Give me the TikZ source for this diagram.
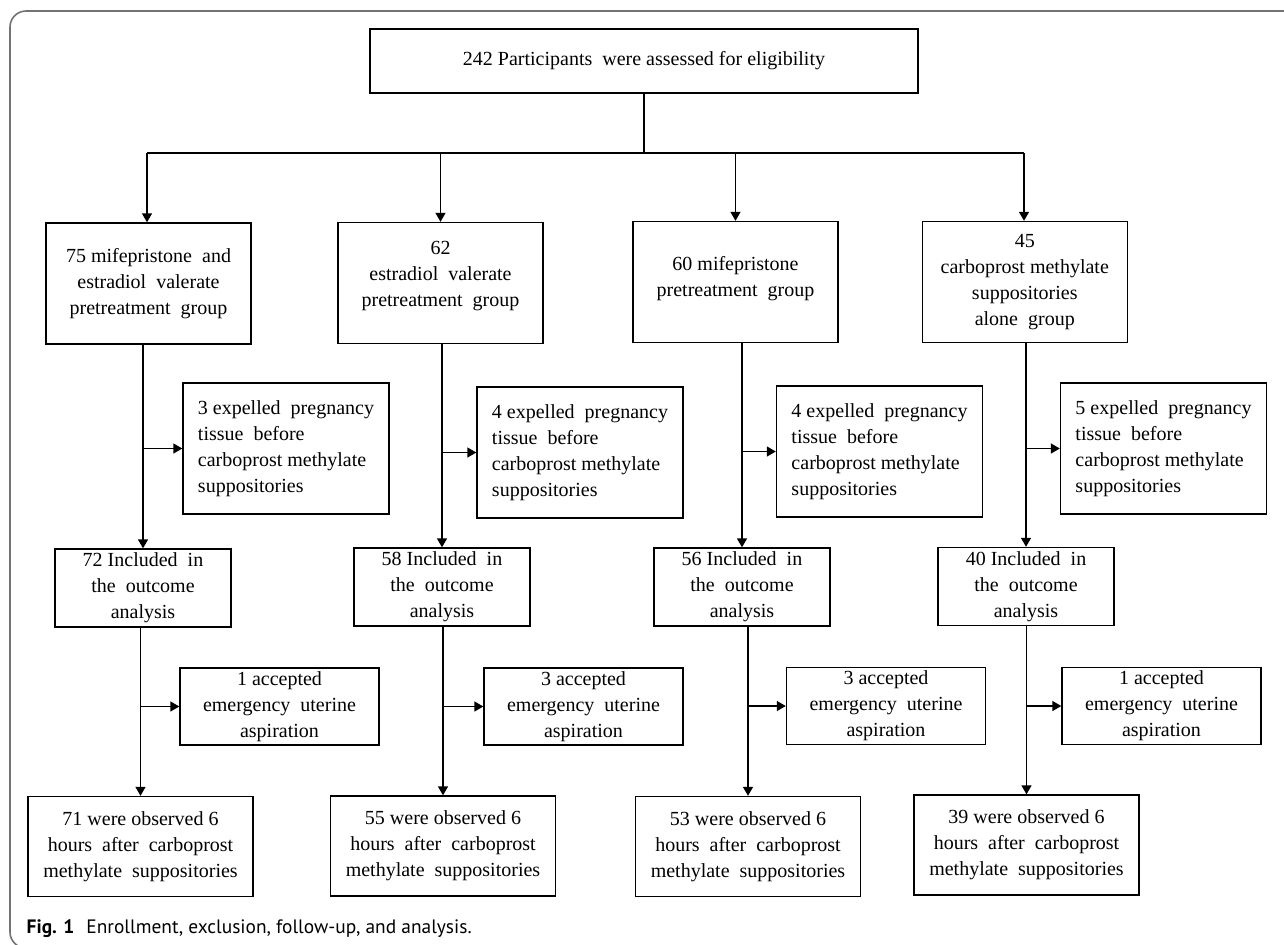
\documentclass[tikz,border=0pt]{standalone}
\usepackage{fontspec}
\setmainfont{Liberation Serif}
\newfontfamily\capfont{PT Sans}
\usetikzlibrary{arrows.meta,calc}

\begin{document}
\begin{tikzpicture}[x=0.5pt,y=-0.5pt,
  line width=0.7pt,
  >={Triangle[length=4.5pt,width=5pt]},
  box/.style={draw, align=center, inner sep=0pt, font=\fontsize{10pt}{13pt}\selectfont},
  topbox/.style={box, minimum width=274pt, minimum height=32pt},
  grpbox/.style={box, minimum width=102.5pt, minimum height=60.5pt},
  expbox/.style={box, align=left, minimum width=103pt, minimum height=65.5pt},
  incbox/.style={box, minimum width=88pt, minimum height=39pt},
  accbox/.style={box, minimum width=99.5pt, minimum height=38.5pt},
  obsbox/.style={box, minimum width=112.5pt, minimum height=50pt}]
\useasboundingbox (0,0) rectangle (1284,944);
\clip (0,0) rectangle (1284,944);
\draw [black!55, line width=0.8pt, rounded corners=8pt] (1300,11)--(10,11)--(10,948)--(1300,948);

\node [topbox] (top) at (644,61) {242 Participants \ were assessed for eligibility};

\node [grpbox] (g1) at (148.5,283.5) {75 mifepristone \ and\\estradiol \ valerate\\pretreatment \ group};
\node [grpbox] (g2) at (440.5,283) {62\\estradiol \ valerate\\pretreatment \ group\\[-4pt]};
\node [grpbox] (g3) at (735.5,282) {60 mifepristone\\pretreatment \ group\\[-7pt]};
\node [grpbox] (g4) at (1024.75,282) {45\\carboprost methylate\\suppositories\\alone \ group};

\node [expbox] (e1) at (286,448.5) {3 expelled \ pregnancy\\tissue \ before\\carboprost methylate\\suppositories};
\node [expbox] (e2) at (580,452.5) {4 expelled \ pregnancy\\tissue \ before\\carboprost methylate\\suppositories};
\node [expbox] (e3) at (879.5,451.5) {4 expelled \ pregnancy\\tissue \ before\\carboprost methylate\\suppositories};
\node [expbox] (e4) at (1163.5,448.5) {5 expelled \ pregnancy\\tissue \ before\\carboprost methylate\\suppositories};

\node [incbox] (i1) at (143,588) {72 Included \ in\\the \ outcome\\analysis};
\node [incbox] (i2) at (442,587) {58 Included \ in\\the \ outcome\\analysis};
\node [incbox] (i3) at (742,587) {56 Included \ in\\the \ outcome\\analysis};
\node [incbox] (i4) at (1026,586.5) {40 Included \ in\\the \ outcome\\analysis};

\node [accbox] (a1) at (279.5,706.5) {1 accepted\\emergency \ uterine\\aspiration};
\node [accbox] (a2) at (583.5,706.5) {3 accepted\\emergency \ uterine\\aspiration};
\node [accbox] (a3) at (886,706) {3 accepted\\emergency \ uterine\\aspiration};
\node [accbox] (a4) at (1161.5,706) {1 accepted\\emergency \ uterine\\aspiration};

\node [obsbox] (o1) at (140.5,846.5) {71 were observed 6\\hours \ after \ carboprost\\methylate \ suppositories};
\node [obsbox] (o2) at (443,846) {55 were observed 6\\hours \ after \ carboprost\\methylate \ suppositories};
\node [obsbox] (o3) at (748,846.5) {53 were observed 6\\hours \ after \ carboprost\\methylate \ suppositories};
\node [obsbox] (o4) at (1026.5,845) {39 were observed 6\\hours \ after \ carboprost\\methylate \ suppositories};

\coordinate (hl) at (147,153);
\coordinate (hr) at (1024,153);
\draw (top.south) -- (top.south |- hl);
\draw (hl) -- (hr);
\draw [->] (hl) -- (hl |- g1.north);
\draw [->] (g2.north |- hl) -- (g2.north);
\draw [->] (g3.north |- hl) -- (g3.north);
\draw [->] (hr) -- (hr |- g4.north);

\draw [->] (i1.north |- g1.south) -- (i1.north);
\draw [->] (i2.north |- g2.south) -- (i2.north);
\draw [->] (i3.north |- g3.south) -- (i3.north);
\draw [->] (i4.north |- g4.south) -- (i4.north);
\draw [->] (i1.north |- e1.west) -- (e1.west);
\draw [->] (i2.north |- e2.west) -- (e2.west);
\draw [->] (i3.north |- e3.west) -- (e3.west);
\draw [->] (i4.north |- e4.west) -- (e4.west);

\draw [->] (o1.north |- i1.south) -- (o1.north);
\draw [->] (o2.north |- i2.south) -- (o2.north);
\draw [->] (o3.north |- i3.south) -- (o3.north);
\draw [->] (o4.north |- i4.south) -- (o4.north);
\draw [->] (o1.north |- a1.west) -- (a1.west);
\draw [->] (o2.north |- a2.west) -- (a2.west);
\draw [->] (o3.north |- a3.west) -- (a3.west);
\draw [->] (o4.north |- a4.west) -- (a4.west);

\node [anchor=base west, inner sep=0pt, font=\capfont\fontsize{9.7pt}{12pt}\selectfont] (cap) at (26,933) {\textbf{Fig. 1}\hspace{6pt}Enrollment, exclusion, follow-up, and analysis.};
\end{tikzpicture}
\end{document}
